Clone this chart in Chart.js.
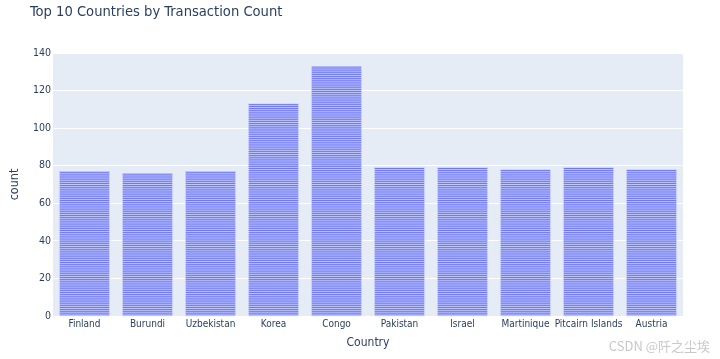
<!DOCTYPE html>
<html><head><meta charset="utf-8">
<script src="https://cdn.jsdelivr.net/npm/chart.js@4/dist/chart.umd.min.js"></script>
<style>html,body{margin:0;padding:0;background:#fff;}#wrap{position:relative;width:720px;height:359px;}</style>
</head><body><div id="wrap"><canvas id="c" width="720" height="359"></canvas></div>
<script>
const categories = ["Finland","Burundi","Uzbekistan","Korea","Congo","Pakistan","Israel","Martinique","Pitcairn Islands","Austria"];
const counts = [77,76,77,113,133,79,79,78,79,78];
const yTicks = [0,20,40,60,80,100,120,140];
const titleText = "Top 10 Countries by Transaction Count";
const watermark = "CSDN @阡之尘埃";

const FONT = "'DejaVu Sans Condensed', 'DejaVu Sans', Verdana, sans-serif";

const stripes = {
  id: 'stripes',
  afterDatasetsDraw(chart) {
    const ctx = chart.ctx, y = chart.scales.y;
    const meta = chart.getDatasetMeta(0);
    ctx.save();
    ctx.strokeStyle = '#e5ecf6';
    ctx.lineWidth = 0.7;
    meta.data.forEach((bar, i) => {
      const v = counts[i];
      const l = bar.x - bar.width/2, r = bar.x + bar.width/2;
      for (let k = 0; k <= v; k++) {
        const py = y.getPixelForValue(k);
        ctx.beginPath(); ctx.moveTo(l, py); ctx.lineTo(r, py); ctx.stroke();
      }
      ctx.beginPath();
      ctx.moveTo(l, y.getPixelForValue(0)); ctx.lineTo(l, y.getPixelForValue(v));
      ctx.moveTo(r, y.getPixelForValue(0)); ctx.lineTo(r, y.getPixelForValue(v));
      ctx.stroke();
    });
    ctx.restore();
  }
};

const bgPlugin = {
  id: 'bg',
  beforeDraw(chart) {
    const {ctx, chartArea: a} = chart;
    ctx.save();
    ctx.fillStyle = '#e5ecf6';
    ctx.fillRect(a.left, a.top, a.right - a.left, a.bottom - a.top);
    ctx.restore();
  },
  afterDraw(chart) {
    const ctx = chart.ctx;
    ctx.save();
    ctx.fillStyle = '#2a3f5f';
    ctx.font = "14.6px " + FONT;
    ctx.textBaseline = 'alphabetic';
    ctx.fillText(titleText, 30, 16);
    ctx.fillStyle = '#c8c8c8';
    ctx.font = "13px 'Noto Sans CJK SC', sans-serif";
    ctx.textAlign = 'right';
    ctx.fillText(watermark, 710, 351);
    ctx.restore();
  }
};

new Chart(document.getElementById('c'), {
  type: 'bar',
  data: { labels: categories, datasets: [{ data: counts, backgroundColor: '#666ffa', borderWidth: 0, barPercentage: 0.8, categoryPercentage: 1.0 }] },
  options: {
    responsive: false, animation: false,
    layout: { padding: { left: 0, right: 37, top: 53, bottom: 0 } },
    plugins: { legend: { display: false }, tooltip: { enabled: false } },
    scales: {
      x: {
        grid: { display: false, drawTicks: false },
        border: { display: false },
        ticks: { color: '#2a3f5f', font: { family: FONT, size: 10 }, padding: 2, maxRotation: 0, autoSkip: false },
        title: { display: true, text: 'Country', color: '#2a3f5f', font: { family: FONT, size: 12 }, padding: { top: 4, bottom: 9 } },
        afterFit(s) { s.height = 43; }
      },
      y: {
        min: 0, max: 140,
        afterBuildTicks(s) { s.ticks = yTicks.map(v => ({ value: v })); },
        grid: { color: '#ffffff', lineWidth: 1, drawTicks: false },
        border: { display: false },
        ticks: { color: '#2a3f5f', font: { family: FONT, size: 10.5 }, padding: 2 },
        title: { display: true, text: 'count', color: '#2a3f5f', font: { family: FONT, size: 12.5 }, padding: { top: 7, bottom: 4 } },
        afterFit(s) { s.width = 53; }
      }
    }
  },
  plugins: [bgPlugin, stripes]
});
</script></body></html>
